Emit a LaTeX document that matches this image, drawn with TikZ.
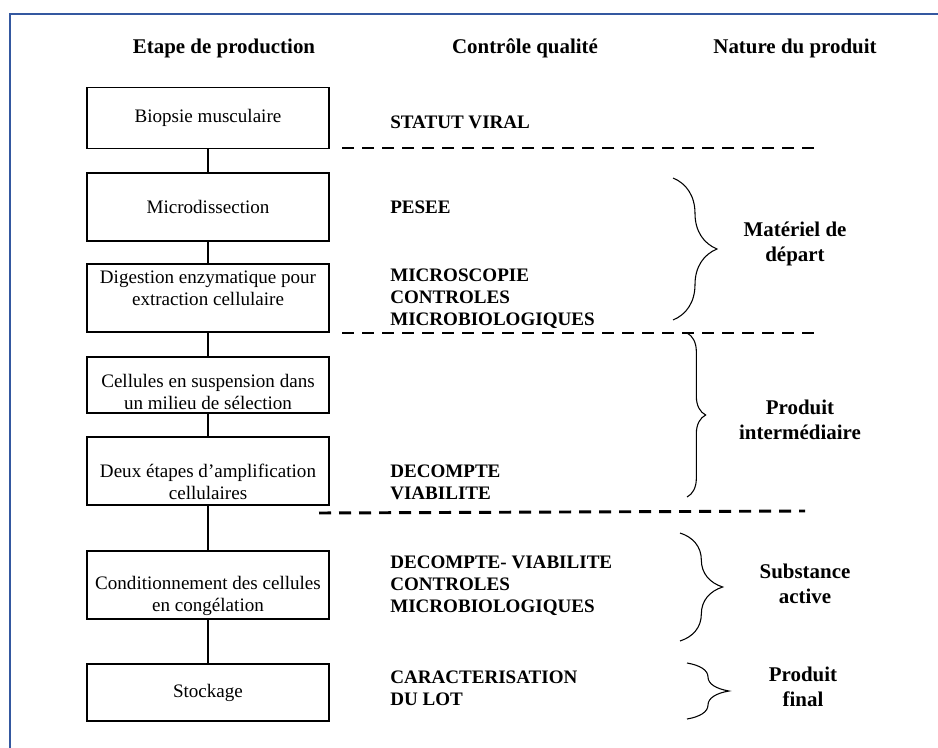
\documentclass[tikz,border=0pt]{standalone}
\usepackage{fontspec}
\setmainfont{Liberation Serif}
\usepackage{xcolor}
\usetikzlibrary{decorations.pathreplacing}
\definecolor{framebleu}{RGB}{52,88,160}
\tikzstyle{stepbox} = [rectangle, draw=black, line width=1.4pt, minimum width=181.5pt, inner sep=0pt, align=center, font=\fontsize{14.3}{16.5}\selectfont]
\tikzstyle{steptext} = [align=center, font=\fontsize{14.3}{16.5}\selectfont]
\tikzstyle{control} = [anchor=west, align=left, inner sep=0pt, font=\bfseries\fontsize{14.3}{16.5}\selectfont]
\tikzstyle{nature} = [align=center, font=\bfseries\fontsize{15.7}{18.75}\selectfont]
\tikzstyle{header} = [font=\bfseries\fontsize{15.7}{18.75}\selectfont]
\tikzstyle{link} = [line width=1.2pt]
\tikzstyle{separ} = [line width=2.2pt, dash pattern=on 9pt off 6pt]
\tikzset{accolade/.style={line width=0.8pt, decorate, decoration={brace, amplitude=#1}}}

\begin{document}
\begin{tikzpicture}[x=0.75pt, y=-0.75pt]
        \useasboundingbox (0,0) rectangle (938,748);
        \draw[framebleu, line width=1.5pt] (10,748) -- (10,14) -- (938,14);

        % Headers
        \node (hetape) [header] at (224,48) {Etape de production};
        \node (hcontrole) [header] at (525,48) {Contrôle qualité};
        \node (hnature) [header] at (795,48) {Nature du produit};

        % Nodes
        \node (biopsie) [stepbox, minimum height=45.75pt] at (208,118) {Biopsie musculaire};
        \node (microdiss) [stepbox, minimum height=51pt] at (208,207) {Microdissection};
        \node (digestion) [stepbox, minimum height=51pt, label={[steptext, yshift=7.5pt]center:{Digestion enzymatique pour\\extraction cellulaire}}] at (208,298) {};
        \node (suspension) [stepbox, minimum height=42pt, label={[steptext, yshift=-5pt]center:{Cellules en suspension dans\\un milieu de sélection}}] at (208,385) {};
        \node (amplif) [stepbox, minimum height=51pt, label={[steptext, yshift=-8pt]center:{Deux étapes d’amplification\\cellulaires}}] at (208,471) {};
        \node (condition) [stepbox, minimum height=51pt, label={[steptext, yshift=-8pt]center:{Conditionnement des cellules\\en congélation}}] at (208,585) {};
        \node (stockage) [stepbox, minimum height=42.75pt] at (208,692.5) {Stockage};

        % Controles
        \node (cviral) [control] at (390,122) {STATUT VIRAL};
        \node (cpesee) [control] at (390,207) {PESEE};
        \node (cmicro) [control] at (390,299) {MICROSCOPIE\\CONTROLES\\MICROBIOLOGIQUES};
        \node (cdecompte) [control] at (390,482.5) {DECOMPTE\\VIABILITE};
        \node (cdecviab) [control] at (390,585.5) {DECOMPTE- VIABILITE\\CONTROLES\\MICROBIOLOGIQUES};
        \node (ccaract) [control] at (390,688) {CARACTERISATION\\DU LOT};

        % Nature
        \node (ndepart) [nature] at (795,243.5) {Matériel de\\départ};
        \node (ninter) [nature] at (800,420) {Produit\\intermédiaire};
        \node (nactive) [nature] at (805,584) {Substance\\active};
        \node (nfinal) [nature] at (803,686.5) {Produit\\final};

        % Arrows
        \draw [link] (biopsie) -- (microdiss);
        \draw [link] (microdiss) -- (digestion);
        \draw [link] (digestion) -- (suspension);
        \draw [link] (suspension) -- (amplif);
        \draw [link] (amplif) -- (condition);
        \draw [link] (condition) -- (stockage);

        % Separations
        \coordinate (sep1w) at (342,148);
        \coordinate (sep1e) at (815,148);
        \coordinate (sep2w) at (342,333);
        \coordinate (sep2e) at (815,333);
        \coordinate (sep3w) at (319,513);
        \coordinate (sep3e) at (805,511);
        \draw [separ] (sep1w) -- (sep1e);
        \draw [separ] (sep2w) -- (sep2e);
        \draw [separ] (sep3w) -- (sep3e);

        % Braces
        \draw [accolade=33pt] (673,178) -- (673,320);
        \draw [accolade=14pt] (687,333) -- (687,497);
        \draw [accolade=32pt] (680,533) -- (680,641);
        \draw [accolade=31.5pt] (687,663) -- (687,719);

\end{tikzpicture}
\end{document}
